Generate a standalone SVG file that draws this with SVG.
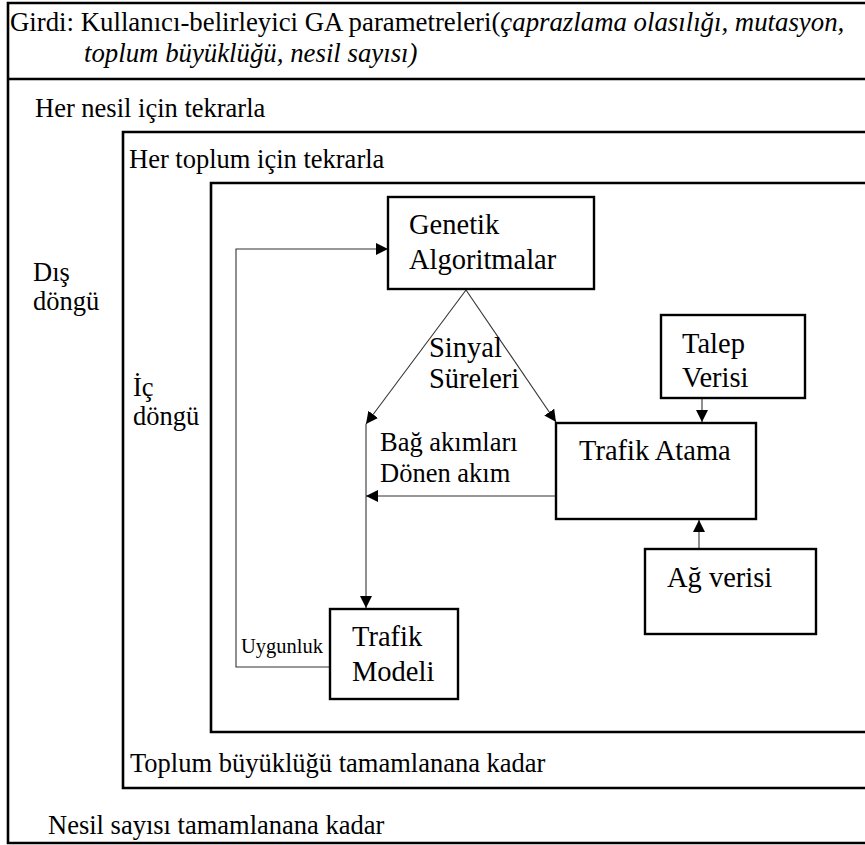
<svg xmlns="http://www.w3.org/2000/svg" width="865" height="845" viewBox="0 0 865 845" font-family="'Liberation Serif', 'Times New Roman', Times, 'DejaVu Serif', serif">
  <style>
    text { fill: #000; }
    .t { font-size: 26.5px; }
    .h { font-size: 26.8px; }
    .n { font-size: 28.5px; }
    .s { font-size: 20.5px; }
    .frame { fill: none; stroke: #000; stroke-width: 2.6; }
    .box { fill: #fff; stroke: #000; stroke-width: 2.4; }
    .wire { fill: none; stroke: #333; stroke-width: 1.1; }
  </style>
  <defs>
    <marker id="arrow" viewBox="0 0 12 12" refX="12" refY="6" markerWidth="12" markerHeight="12" markerUnits="userSpaceOnUse" orient="auto">
      <path d="M0,0 L12,6 L0,12 Z" fill="#000"/>
    </marker>
  </defs>

  <rect width="865" height="845" fill="#fff"/>

  <!-- nested loop frames (open on the right) -->
  <g id="outer-loop">
    <path class="frame" d="M868,3 H8 V843 H868"/>
    <line class="frame" x1="8" y1="79" x2="868" y2="79"/>
    <text class="h" x="10" y="31">Girdi: Kullanıcı-belirleyici GA parametreleri(<tspan font-style="italic">çaprazlama olasılığı, mutasyon,</tspan></text>
    <text class="h" x="84" y="62" font-style="italic">toplum büyüklüğü, nesil sayısı)</text>
    <text class="t" x="35" y="117">Her nesil için tekrarla</text>
    <text class="t" x="33" y="281">Dış</text>
    <text class="t" x="33" y="310">döngü</text>
    <text class="t" x="48" y="834">Nesil sayısı tamamlanana kadar</text>
  </g>

  <g id="inner-loop">
    <path class="frame" d="M868,132 H123 V788 H868"/>
    <text class="t" x="129" y="168">Her toplum için tekrarla</text>
    <text class="t" x="133" y="396">İç</text>
    <text class="t" x="133" y="425">döngü</text>
    <text class="t" x="130" y="772">Toplum büyüklüğü tamamlanana kadar</text>
  </g>

  <g id="evaluation">
    <path class="frame" d="M868,183 H211 V732 H868"/>
  </g>

  <!-- connectors -->
  <g id="connectors">
    <line class="wire" x1="466" y1="290" x2="556" y2="422" marker-end="url(#arrow)"/>
    <line class="wire" x1="466" y1="290" x2="366" y2="424" marker-end="url(#arrow)"/>
    <line class="wire" x1="366" y1="424" x2="366" y2="608" marker-end="url(#arrow)"/>
    <line class="wire" x1="555" y1="496" x2="366" y2="496" marker-end="url(#arrow)"/>
    <line class="wire" x1="702" y1="398" x2="702" y2="422" marker-end="url(#arrow)"/>
    <line class="wire" x1="699" y1="549" x2="699" y2="520" marker-end="url(#arrow)"/>
    <polyline class="wire" points="330,667 236,667 236,249 388,249" marker-end="url(#arrow)"/>
    <text class="n" x="429" y="357">Sinyal</text>
    <text class="n" x="429" y="388">Süreleri</text>
    <text class="t" x="380" y="451">Bağ akımları</text>
    <text class="t" x="380" y="482">Dönen akım</text>
    <text class="s" x="241" y="653">Uygunluk</text>
  </g>

  <!-- process nodes -->
  <g id="genetic-algorithms">
    <rect class="box" x="388" y="197" width="206" height="92"/>
    <text class="n" x="409" y="234">Genetik</text>
    <text class="n" x="409" y="269">Algoritmalar</text>
  </g>

  <g id="demand-data">
    <rect class="box" x="661" y="315" width="144" height="83"/>
    <text class="n" x="682" y="353">Talep</text>
    <text class="n" x="682" y="387">Verisi</text>
  </g>

  <g id="traffic-assignment">
    <rect class="box" x="556" y="423" width="200" height="96"/>
    <text class="n" x="579" y="460">Trafik Atama</text>
  </g>

  <g id="network-data">
    <rect class="box" x="645" y="549" width="171" height="85"/>
    <text class="n" x="667" y="587">Ağ verisi</text>
  </g>

  <g id="traffic-model">
    <rect class="box" x="330" y="609" width="128" height="90"/>
    <text class="n" x="352" y="646">Trafik</text>
    <text class="n" x="352" y="681">Modeli</text>
  </g>
</svg>
